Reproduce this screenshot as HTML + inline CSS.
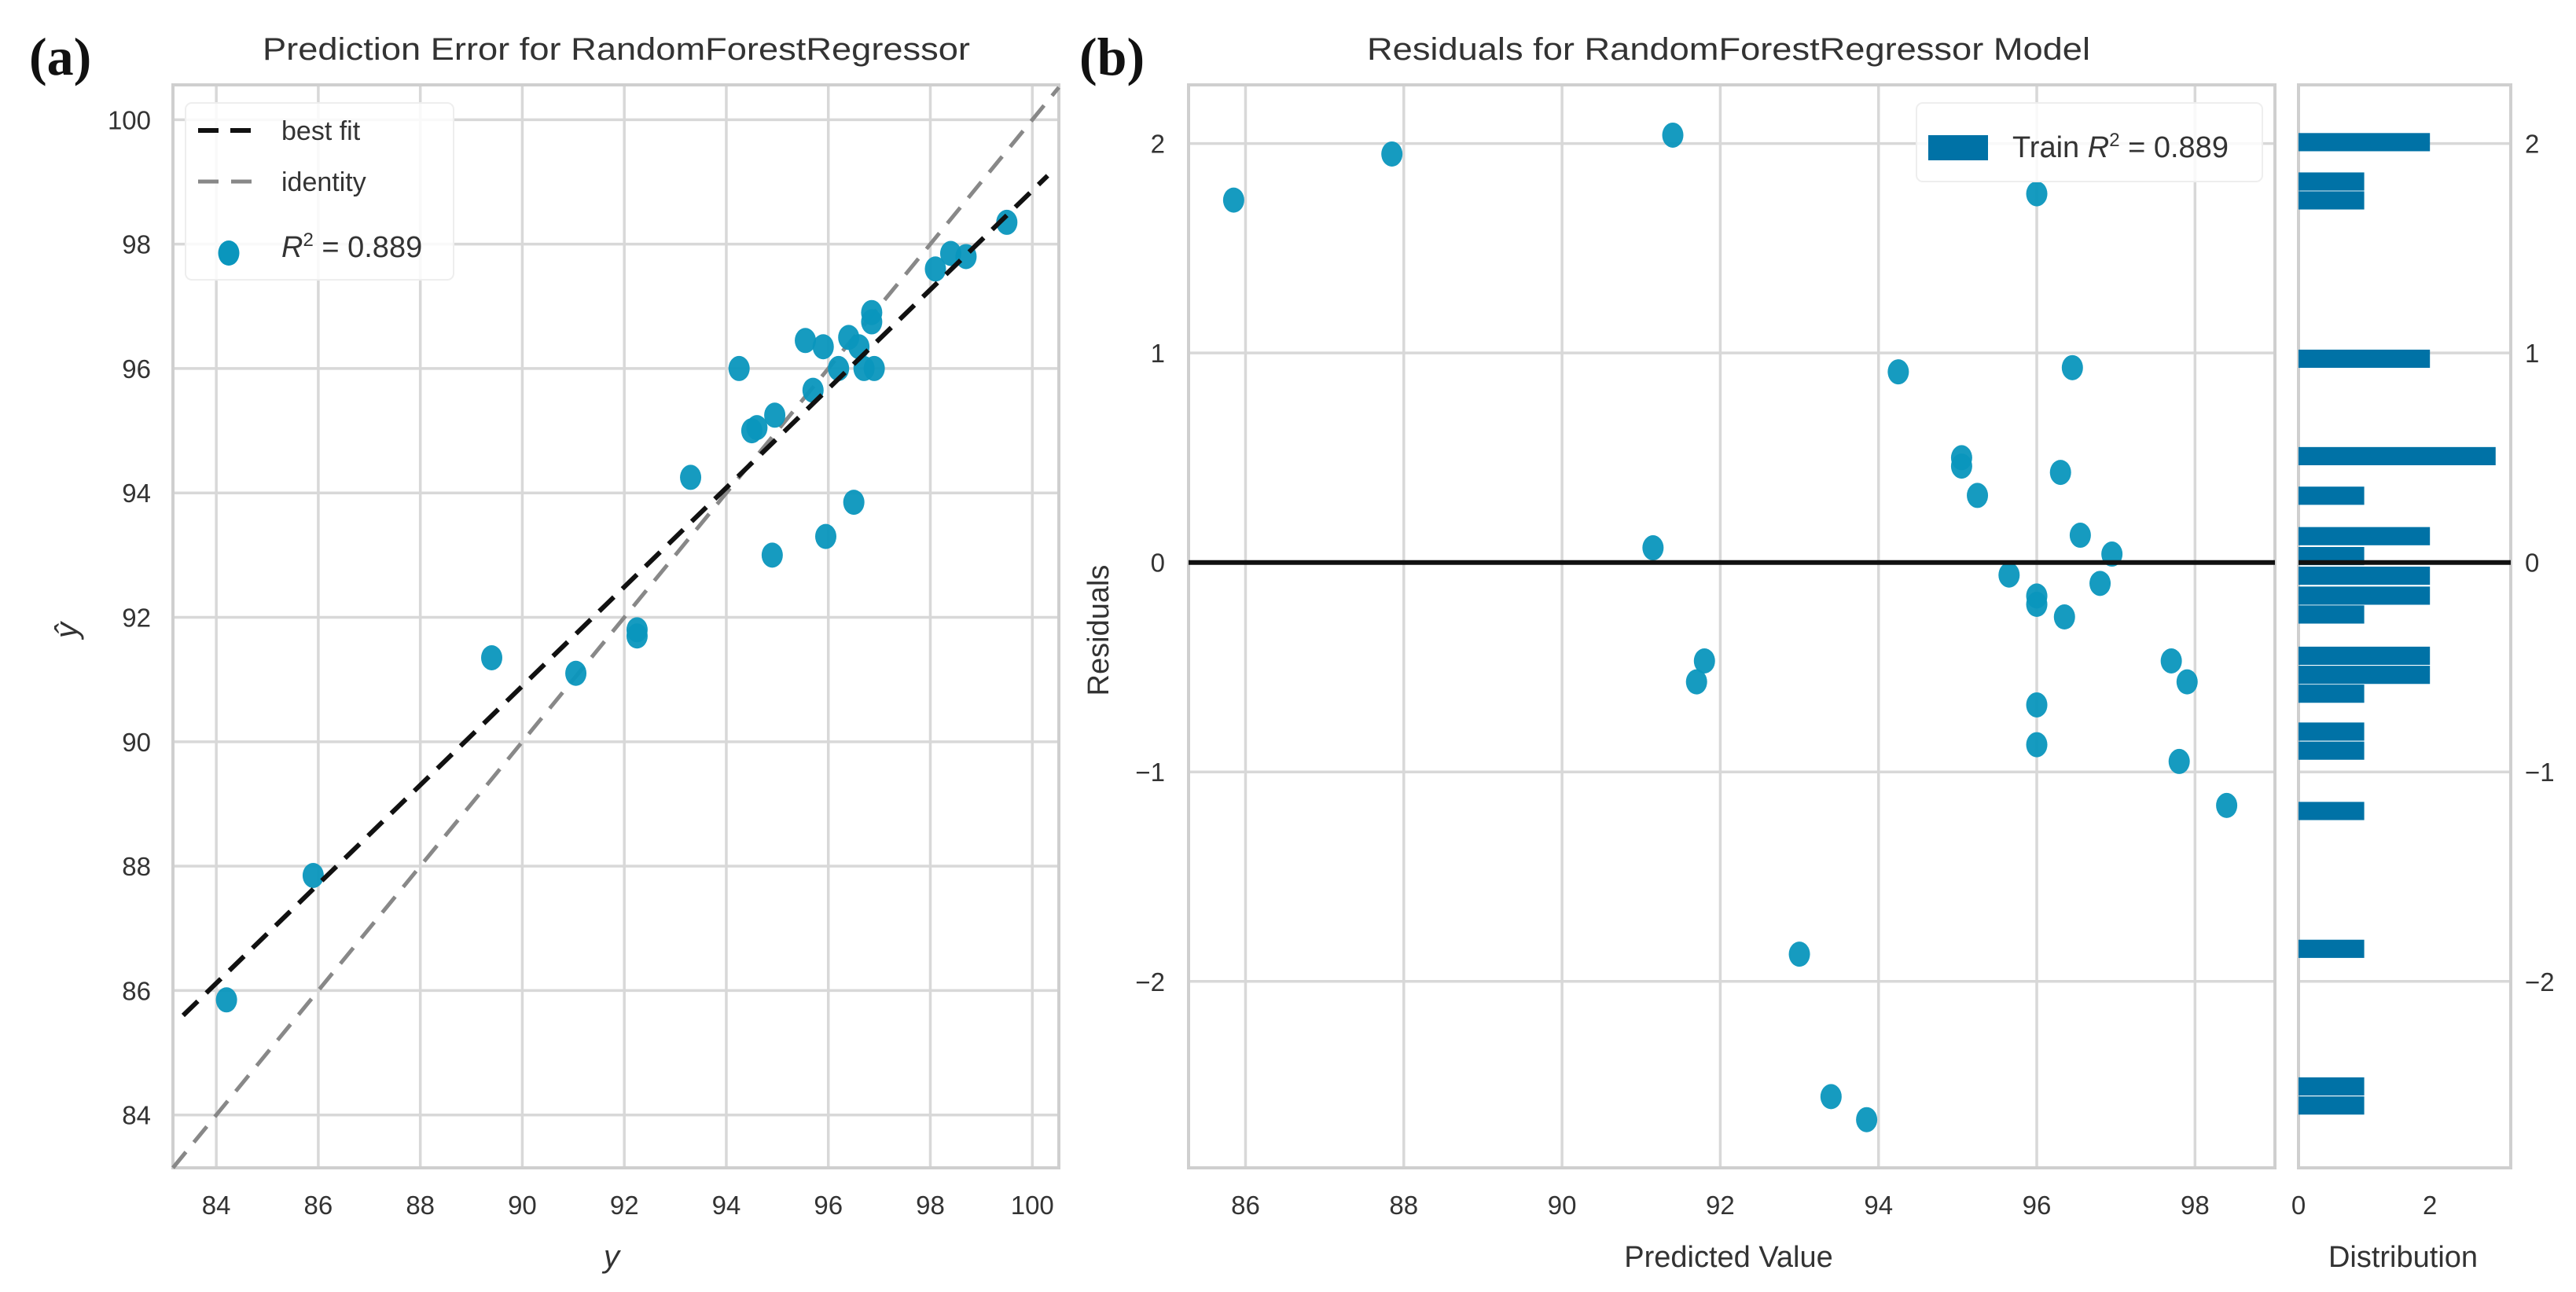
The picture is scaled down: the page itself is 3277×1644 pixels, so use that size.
<!DOCTYPE html>
<html><head><meta charset="utf-8"><style>
html,body{margin:0;padding:0;background:#fff;}
svg{display:block;font-family:"Liberation Sans",Arial,sans-serif;}
</style></head><body>
<svg id="fig" width="3277" height="1644" viewBox="0 0 3277 1644" xmlns="http://www.w3.org/2000/svg">
<rect width="3277" height="1644" fill="#fff"/>
<g id="pe"></g>
<g id="res"></g>
<g id="hist"></g>
</svg>
<script>
// ---- Panel (a) data ----
const peActual = [84.2,85.9,89.4,91.05,92.25,92.25,93.3,94.25,94.5,94.6,94.9,94.95,95.55,95.7,95.9,95.95,96.2,96.4,96.5,96.6,96.7,96.85,96.85,96.9,98.1,98.4,98.7,99.5];
const pePred   = [85.85,87.85,91.35,91.1,91.8,91.7,94.25,96.0,95.0,95.05,93.0,95.25,96.45,95.65,96.35,93.3,96.0,96.5,93.85,96.35,96.0,96.9,96.75,96.0,97.6,97.85,97.8,98.35];
const peTicks = [84,86,88,90,92,94,96,98,100];
const bestFitX = [83.35,100.3];
const bestFitY = [85.6,99.1];
// ---- Panel (b) data ----
const resPred = [85.85,87.85,91.4,96.0,94.25,96.45,95.05,95.05,96.3,95.25,91.15,96.55,96.95,95.65,96.0,96.0,96.8,96.35,91.8,91.7,97.7,97.9,96.0,96.0,97.8,98.4,93.0,93.4,93.85];
const resVal  = [1.73,1.95,2.04,1.76,0.91,0.93,0.5,0.46,0.43,0.32,0.07,0.13,0.04,-0.06,-0.16,-0.2,-0.1,-0.26,-0.47,-0.57,-0.47,-0.57,-0.68,-0.87,-0.95,-1.16,-1.87,-2.55,-2.66];
const resXTicks = [86,88,90,92,94,96,98];
const resYTicks = [2,1,0,-1,-2];
const histBinTop = [2.05,1.862,1.772,1.016,0.551,0.362,0.169,0.074,-0.020,-0.115,-0.205,-0.402,-0.493,-0.583,-0.764,-0.855,-1.143,-1.801,-2.458,-2.549];
const histCount  = [2,1,1,2,3,1,2,1,2,2,1,2,2,1,1,1,1,1,1,1];
const histBinWidth = 0.0925;
const histXTicks = [0,2];

const NS="http://www.w3.org/2000/svg";
function mk(parent,tag,attrs,txt){const e=document.createElementNS(NS,tag);for(const k in attrs)e.setAttribute(k,attrs[k]);if(txt!==undefined)e.textContent=txt;parent.appendChild(e);return e;}
const GRID="#d8d8d8", FRAME="#cfcfcf", DOT="#0a96bd", BAR="#0072a6", TXT="#333";

// ===== Panel (a) =====
const A={l:220,r:1347,t:108,b:1486,x0:83.15,x1:100.52,y0:83.15,y1:100.56};
const ax=v=>A.l+(v-A.x0)/(A.x1-A.x0)*(A.r-A.l);
const ay=v=>A.b-(v-A.y0)/(A.y1-A.y0)*(A.b-A.t);
const pe=document.getElementById('pe');
peTicks.forEach(t=>{
  let g=mk(pe,'line',{x1:ax(t),x2:ax(t),y1:A.t,y2:A.b,stroke:GRID,'stroke-width':3.5});
  
  g=mk(pe,'line',{x1:A.l,x2:A.r,y1:ay(t),y2:ay(t),stroke:GRID,'stroke-width':3.5});
  
  let l=mk(pe,'text',{x:ax(t),y:1545,'text-anchor':'middle','font-size':33,fill:TXT},String(t));
  
  l=mk(pe,'text',{x:192,y:ay(t)+12,'text-anchor':'end','font-size':33,fill:TXT},String(t));
  
});
let fr=mk(pe,'rect',{x:A.l,y:A.t,width:A.r-A.l,height:A.b-A.t,fill:'none',stroke:FRAME,'stroke-width':4});

let idl=mk(pe,'line',{x1:ax(A.x0),y1:ay(A.x0),x2:ax(A.x1),y2:ay(A.x1),stroke:'#888','stroke-width':5,'stroke-dasharray':'26 16'});

peActual.forEach((v,i)=>{
  const c=mk(pe,'ellipse',{cx:ax(v),cy:ay(pePred[i]),rx:13.5,ry:16,fill:DOT,'fill-opacity':0.95});
  
});
let bf=mk(pe,'line',{x1:ax(bestFitX[0]),y1:ay(bestFitY[0]),x2:ax(bestFitX[1]),y2:ay(bestFitY[1]),stroke:'#111','stroke-width':6,'stroke-dasharray':'26 15'});

// legend
const lg=mk(pe,'g',{});

mk(lg,'rect',{x:236,y:131,width:341,height:225,rx:8,fill:'#fff','fill-opacity':0.85,stroke:'#eee','stroke-width':2});
let e1=mk(lg,'line',{x1:252,x2:320,y1:166,y2:166,stroke:'#111','stroke-width':6,'stroke-dasharray':'26 15'});

let t1=mk(lg,'text',{x:358,y:178,'font-size':34,fill:TXT},'best fit');

let e2=mk(lg,'line',{x1:252,x2:320,y1:231,y2:231,stroke:'#888','stroke-width':5,'stroke-dasharray':'26 16'});

let t2=mk(lg,'text',{x:358,y:243,'font-size':34,fill:TXT},'identity');

let e3=mk(lg,'ellipse',{cx:291,cy:322,rx:13.5,ry:16,fill:DOT});

let t3=mk(lg,'text',{x:358,y:327,'font-size':38,fill:TXT});

t3.innerHTML='<tspan font-style="italic">R</tspan><tspan dy="-14" font-size="24">2</tspan><tspan dy="14"> = 0.889</tspan>';
let ti=mk(pe,'text',{x:784,y:76,'text-anchor':'middle','font-size':40,fill:TXT,textLength:900,lengthAdjust:'spacingAndGlyphs'},'Prediction Error for RandomForestRegressor');

let pl=mk(pe,'text',{x:37,y:95,'font-size':68,'font-weight':'bold','font-family':'Liberation Serif, serif',fill:'#111'},'(a)');

let xl=mk(pe,'text',{x:778,y:1612,'text-anchor':'middle','font-size':40,'font-style':'italic',fill:TXT},'y');

let yl=mk(pe,'text',{x:0,y:0,'text-anchor':'middle','font-size':40,'font-style':'italic',fill:TXT,transform:'translate(98,802) rotate(-90)'},'ŷ');


// ===== Panel (b) residuals =====
const B={l:1512,r:2894,t:108,b:1486,x0:85.28,x1:99.01,y0:-2.89,y1:2.28};
const bx=v=>B.l+(v-B.x0)/(B.x1-B.x0)*(B.r-B.l);
const by=v=>B.b-(v-B.y0)/(B.y1-B.y0)*(B.b-B.t);
const rs=document.getElementById('res');
resXTicks.forEach(t=>{
  let g=mk(rs,'line',{x1:bx(t),x2:bx(t),y1:B.t,y2:B.b,stroke:GRID,'stroke-width':3.5});
  
  let l=mk(rs,'text',{x:bx(t),y:1545,'text-anchor':'middle','font-size':33,fill:TXT},String(t));
  
});
resYTicks.forEach(t=>{
  let g=mk(rs,'line',{x1:B.l,x2:B.r,y1:by(t),y2:by(t),stroke:GRID,'stroke-width':3.5});
  
  let l=mk(rs,'text',{x:1482,y:by(t)+12,'text-anchor':'end','font-size':33,fill:TXT},String(t).replace('-','\u2212'));
  
});
fr=mk(rs,'rect',{x:B.l,y:B.t,width:B.r-B.l,height:B.b-B.t,fill:'none',stroke:FRAME,'stroke-width':4});

resPred.forEach((v,i)=>{
  const c=mk(rs,'ellipse',{cx:bx(v),cy:by(resVal[i]),rx:13.5,ry:16,fill:DOT,'fill-opacity':0.95});
  
});
let zl=mk(rs,'line',{x1:B.l,x2:B.r,y1:by(0),y2:by(0),stroke:'#111','stroke-width':6});

const lg2=mk(rs,'g',{});

mk(lg2,'rect',{x:2438,y:131,width:440,height:100,rx:8,fill:'#fff','fill-opacity':0.85,stroke:'#eee','stroke-width':2});
let sw=mk(lg2,'rect',{x:2453,y:172,width:76,height:32,fill:BAR});

let lt=mk(lg2,'text',{x:2560,y:200,'font-size':38,fill:TXT});

lt.innerHTML='Train <tspan font-style="italic">R</tspan><tspan dy="-14" font-size="24">2</tspan><tspan dy="14"> = 0.889</tspan>';
ti=mk(rs,'text',{x:2199,y:76,'text-anchor':'middle','font-size':40,fill:TXT,textLength:920,lengthAdjust:'spacingAndGlyphs'},'Residuals for RandomForestRegressor Model');

pl=mk(rs,'text',{x:1373,y:95,'font-size':68,'font-weight':'bold','font-family':'Liberation Serif, serif',fill:'#111'},'(b)');

xl=mk(rs,'text',{x:2199,y:1612,'text-anchor':'middle','font-size':38,fill:TXT},'Predicted Value');

yl=mk(rs,'text',{x:0,y:0,'text-anchor':'middle','font-size':38,fill:TXT,transform:'translate(1410,802) rotate(-90)'},'Residuals');


// ===== Histogram =====
const H={l:2924,r:3194,x0:0,x1:3.23};
const hx=v=>H.l+(v-H.x0)/(H.x1-H.x0)*(H.r-H.l);
const hs=document.getElementById('hist');
resYTicks.forEach(t=>{
  let g=mk(hs,'line',{x1:H.l,x2:H.r,y1:by(t),y2:by(t),stroke:GRID,'stroke-width':3.5});
  
  let l=mk(hs,'text',{x:3212,y:by(t)+12,'font-size':33,fill:TXT},String(t).replace('-','\u2212'));
  
});
histXTicks.forEach(t=>{
  let l=mk(hs,'text',{x:hx(t),y:1545,'text-anchor':'middle','font-size':33,fill:TXT},String(t));
  
});
fr=mk(hs,'rect',{x:H.l,y:B.t,width:H.r-H.l,height:B.b-B.t,fill:'none',stroke:FRAME,'stroke-width':4});

histBinTop.forEach((v,i)=>{
  const y1=by(v), y2=by(v-histBinWidth);
  const r=mk(hs,'rect',{x:hx(0),y:y1,width:hx(histCount[i])-hx(0),height:y2-y1-1.5,fill:BAR});
  
});
zl=mk(hs,'line',{x1:H.l,x2:H.r,y1:by(0),y2:by(0),stroke:'#111','stroke-width':6});

xl=mk(hs,'text',{x:3057,y:1612,'text-anchor':'middle','font-size':38,fill:TXT},'Distribution');

</script>
</body></html>
